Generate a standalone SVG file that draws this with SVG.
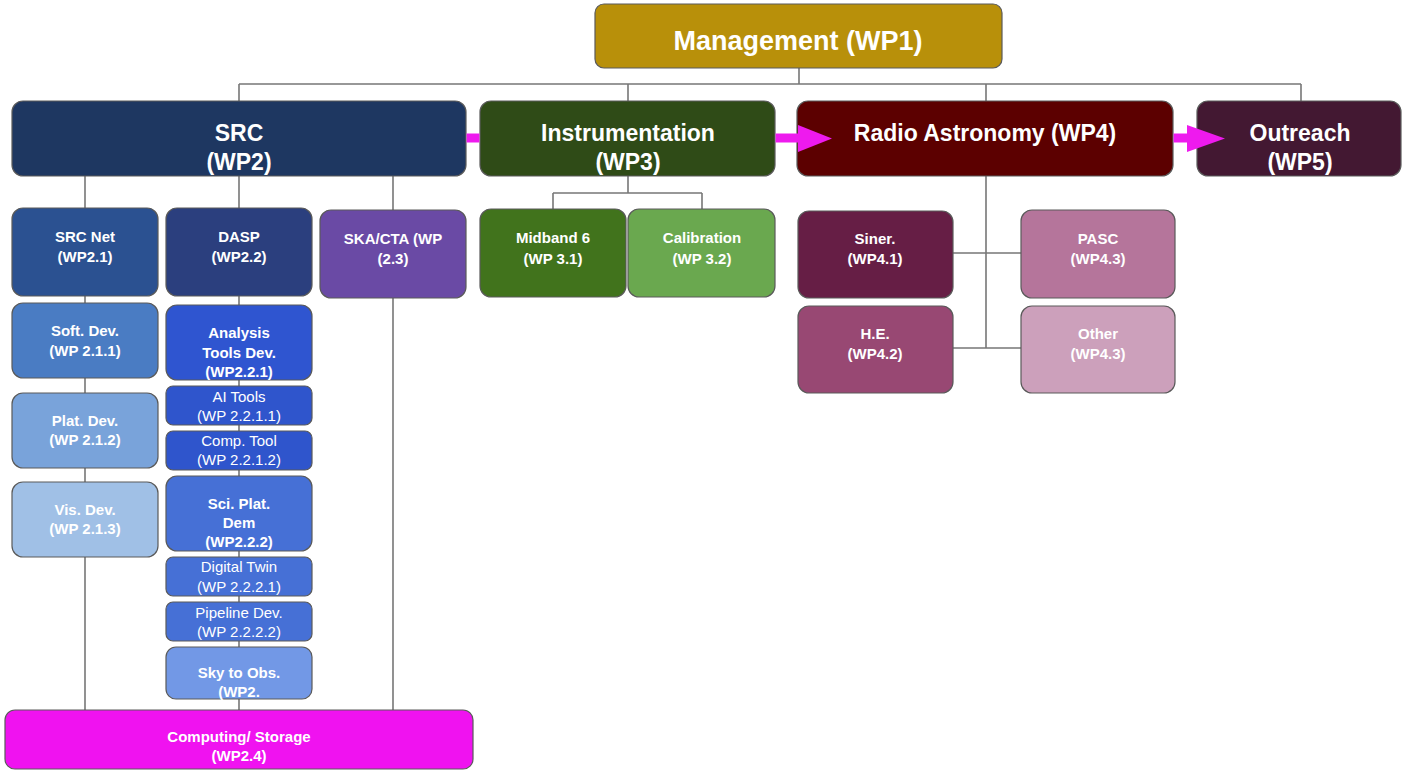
<svg xmlns="http://www.w3.org/2000/svg" width="1402" height="774" viewBox="0 0 1402 774">
<style>
.box{stroke:#5a5a5a;stroke-width:1.2}
.t{font-family:"Liberation Sans",Arial,sans-serif;fill:#fff;text-anchor:middle}
.b{font-weight:bold}
.xl{font-size:27px}
.l{font-size:23px}
.m{font-size:15px}
.c{fill:none;stroke:#777;stroke-width:1.6}
.mg{stroke:#ee1aee;stroke-width:9;fill:none}
.mh{fill:#ee1aee}
</style>
<rect width="1402" height="774" fill="#fff"/>
<g id="connectors">
<path class="c" d="M799 68V84M239 84H1301M239 84V101M628 84V101M986 84V101M1301 84V101"/>
<path class="c" d="M85 176V710M239 176V710M393 176V710"/>
<path class="c" d="M628 176V193M553 193H702M553 193V209M702 193V209"/>
<path class="c" d="M986 176V348M953 253H1021M953 348H1021"/>
</g>
<g id="wp1"><rect class="box" x="595" y="4" width="407" height="64" rx="9" fill="#b8900a"/><text class="t b xl" x="798" y="50">Management (WP1)</text></g>
<g id="wp2"><rect class="box" x="12" y="101" width="454" height="75" rx="11" fill="#1e3761"/><text class="t b l" x="239" y="141">SRC</text><text class="t b l" x="239" y="170">(WP2)</text></g>
<g id="wp3"><rect class="box" x="480" y="101" width="295" height="75" rx="11" fill="#2f4b17"/><text class="t b l" x="628" y="141">Instrumentation</text><text class="t b l" x="628" y="170">(WP3)</text></g>
<g id="wp4"><rect class="box" x="797" y="101" width="376" height="75" rx="11" fill="#5c0000"/><text class="t b l" x="985" y="141">Radio Astronomy (WP4)</text></g>
<g id="wp5"><rect class="box" x="1197" y="101" width="204" height="75" rx="11" fill="#431832"/><text class="t b l" x="1300" y="141">Outreach</text><text class="t b l" x="1300" y="170">(WP5)</text></g>

<g id="wp21"><rect class="box" x="12" y="208" width="146" height="88" rx="11" fill="#2b5191"/><text class="t b m" x="85" y="242">SRC Net</text><text class="t b m" x="85" y="262">(WP2.1)</text></g>
<g id="wp22"><rect class="box" x="166" y="208" width="146" height="88" rx="11" fill="#2b3f7e"/><text class="t b m" x="239" y="242">DASP</text><text class="t b m" x="239" y="262">(WP2.2)</text></g>
<g id="wp23"><rect class="box" x="320" y="210" width="146" height="88" rx="11" fill="#6a4aa5"/><text class="t b m" x="393" y="244">SKA/CTA (WP</text><text class="t b m" x="393" y="264">(2.3)</text></g>

<g id="wp211"><rect class="box" x="12" y="303" width="146" height="75" rx="11" fill="#4a7cc3"/><text class="t b m" x="85" y="336">Soft. Dev.</text><text class="t b m" x="85" y="356">(WP 2.1.1)</text></g>
<g id="wp212"><rect class="box" x="12" y="393" width="146" height="75" rx="11" fill="#79a3da"/><text class="t b m" x="85" y="426">Plat. Dev.</text><text class="t b m" x="85" y="445">(WP 2.1.2)</text></g>
<g id="wp213"><rect class="box" x="12" y="482" width="146" height="75" rx="11" fill="#a0c0e6"/><text class="t b m" x="85" y="515">Vis. Dev.</text><text class="t b m" x="85" y="534">(WP 2.1.3)</text></g>

<g id="wp221"><rect class="box" x="166" y="305" width="146" height="75" rx="11" fill="#2f55d0"/><text class="t b m" x="239" y="338">Analysis</text><text class="t b m" x="239" y="358">Tools Dev.</text><text class="t b m" x="239" y="377">(WP2.2.1)</text></g>
<g id="wp2211"><rect class="box" x="166" y="386" width="146" height="39" rx="7" fill="#2f55cc"/><text class="t m" x="239" y="402">AI Tools</text><text class="t m" x="239" y="421">(WP 2.2.1.1)</text></g>
<g id="wp2212"><rect class="box" x="166" y="431" width="146" height="39" rx="7" fill="#2f55cc"/><text class="t m" x="239" y="446">Comp. Tool</text><text class="t m" x="239" y="465">(WP 2.2.1.2)</text></g>
<g id="wp222"><rect class="box" x="166" y="476" width="146" height="75" rx="11" fill="#4670d6"/><text class="t b m" x="239" y="509">Sci. Plat.</text><text class="t b m" x="239" y="528">Dem</text><text class="t b m" x="239" y="547">(WP2.2.2)</text></g>
<g id="wp2221"><rect class="box" x="166" y="557" width="146" height="39" rx="7" fill="#4670d6"/><text class="t m" x="239" y="572">Digital Twin</text><text class="t m" x="239" y="592">(WP 2.2.2.1)</text></g>
<g id="wp2222"><rect class="box" x="166" y="602" width="146" height="39" rx="7" fill="#4670d6"/><text class="t m" x="239" y="618">Pipeline Dev.</text><text class="t m" x="239" y="637">(WP 2.2.2.2)</text></g>
<g id="wp223"><rect class="box" x="166" y="647" width="146" height="52" rx="10" fill="#7298e6"/><text class="t b m" x="239" y="678">Sky to Obs.</text><text class="t b m" x="239" y="697">(WP2.</text></g>
<g id="wp24"><rect class="box" x="5" y="710" width="468" height="59" rx="10" fill="#f012f0"/><text class="t b m" x="239" y="742">Computing/ Storage</text><text class="t b m" x="239" y="761">(WP2.4)</text></g>

<g id="wp31"><rect class="box" x="480" y="209" width="146" height="88" rx="11" fill="#41731c"/><text class="t b m" x="553" y="243">Midband 6</text><text class="t b m" x="553" y="264">(WP 3.1)</text></g>
<g id="wp32"><rect class="box" x="628" y="209" width="147" height="88" rx="11" fill="#6aa84f"/><text class="t b m" x="702" y="243">Calibration</text><text class="t b m" x="702" y="264">(WP 3.2)</text></g>

<g id="wp41"><rect class="box" x="798" y="211" width="155" height="87" rx="11" fill="#661e45"/><text class="t b m" x="875" y="244">Siner.</text><text class="t b m" x="875" y="264">(WP4.1)</text></g>
<g id="wp43a"><rect class="box" x="1021" y="210" width="154" height="88" rx="11" fill="#b5759b"/><text class="t b m" x="1098" y="244">PASC</text><text class="t b m" x="1098" y="264">(WP4.3)</text></g>
<g id="wp42"><rect class="box" x="798" y="306" width="155" height="87" rx="11" fill="#984873"/><text class="t b m" x="875" y="339">H.E.</text><text class="t b m" x="875" y="359">(WP4.2)</text></g>
<g id="wp43b"><rect class="box" x="1021" y="306" width="154" height="87" rx="11" fill="#cca0bb"/><text class="t b m" x="1098" y="339">Other</text><text class="t b m" x="1098" y="359">(WP4.3)</text></g>

<g id="flow-arrows">
<path class="mg" d="M466.6 138H479.4"/>
<path class="mg" d="M775.6 138H800"/>
<polygon class="mh" points="798,125 832,138.5 798,152"/>
<path class="mg" d="M1173.6 138H1189"/>
<polygon class="mh" points="1187,125 1225,138.5 1187,152"/>
</g>
</svg>
